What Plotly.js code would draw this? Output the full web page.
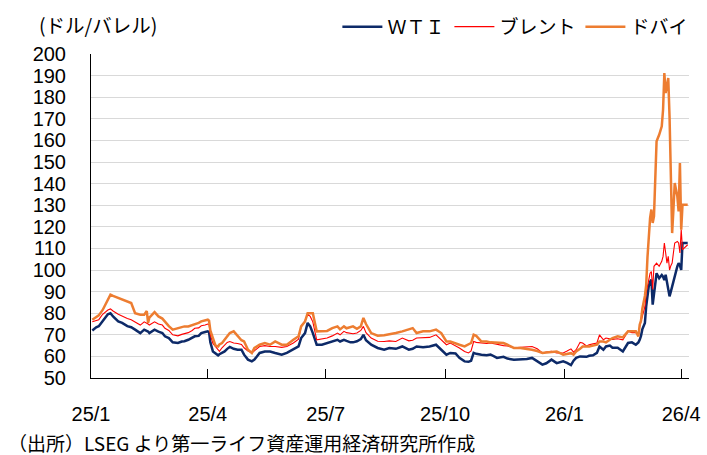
<!DOCTYPE html>
<html>
<head>
<meta charset="utf-8">
<script src="https://cdn.plot.ly/plotly-3.0.1.min.js"></script>
<style>
html,body{margin:0;padding:0;background:#fff;}
#chart{width:707px;height:455px;}
</style>
</head>
<body>
<div id="chart"></div>
<script>
const dates = [
'2025-01-02','2025-01-05','2025-01-07','2025-01-10','2025-01-14','2025-01-16','2025-01-18','2025-01-22','2025-01-25','2025-01-29',
'2025-02-01','2025-02-04','2025-02-08','2025-02-11','2025-02-13','2025-02-14','2025-02-15','2025-02-19','2025-02-22','2025-02-25','2025-02-27',
'2025-03-02','2025-03-05','2025-03-09','2025-03-12','2025-03-14','2025-03-17','2025-03-20','2025-03-22','2025-03-25','2025-03-27','2025-03-30',
'2025-04-01','2025-04-02','2025-04-03','2025-04-05','2025-04-07','2025-04-09','2025-04-10','2025-04-12','2025-04-14','2025-04-16','2025-04-18','2025-04-21','2025-04-24','2025-04-27','2025-04-29',
'2025-05-02','2025-05-05','2025-05-07','2025-05-11','2025-05-15','2025-05-19','2025-05-23','2025-05-28',
'2025-06-01','2025-06-06','2025-06-10','2025-06-12','2025-06-15','2025-06-17','2025-06-19','2025-06-21','2025-06-24','2025-06-28',
'2025-07-02','2025-07-06','2025-07-10','2025-07-12','2025-07-15','2025-07-17','2025-07-20','2025-07-22','2025-07-25','2025-07-28','2025-07-30',
'2025-08-01','2025-08-05','2025-08-10','2025-08-15','2025-08-19','2025-08-24','2025-08-29',
'2025-09-03','2025-09-06','2025-09-09','2025-09-14','2025-09-19','2025-09-24','2025-09-28',
'2025-10-02','2025-10-05','2025-10-09','2025-10-12','2025-10-16','2025-10-19','2025-10-21','2025-10-23','2025-10-25','2025-10-29',
'2025-11-02','2025-11-05','2025-11-10','2025-11-15','2025-11-18','2025-11-23','2025-11-28',
'2025-12-03','2025-12-07','2025-12-11','2025-12-15','2025-12-18','2025-12-22','2025-12-26','2025-12-31',
'2026-01-03','2026-01-06','2026-01-08','2026-01-10','2026-01-13','2026-01-15','2026-01-18','2026-01-20','2026-01-23','2026-01-26','2026-01-28','2026-01-31',
'2026-02-02','2026-02-05','2026-02-07','2026-02-11','2026-02-15','2026-02-19','2026-02-22','2026-02-25','2026-02-27','2026-02-28',
'2026-03-01','2026-03-02','2026-03-04','2026-03-05','2026-03-06','2026-03-07','2026-03-08','2026-03-09','2026-03-10','2026-03-11','2026-03-13','2026-03-15','2026-03-17','2026-03-18','2026-03-19','2026-03-20','2026-03-21','2026-03-22','2026-03-23','2026-03-24','2026-03-25','2026-03-26','2026-03-27','2026-03-29','2026-03-30','2026-03-31',
'2026-04-01','2026-04-02','2026-04-06'
];

const wti = [
72.0,73.5,74.0,76.5,79.5,80.0,78.5,76.2,75.5,74.0,
73.5,72.4,70.8,72.4,72.0,71.5,70.8,72.4,71.5,70.8,69.3,
68.5,66.5,66.2,66.9,67.0,67.7,68.5,69.3,69.5,70.8,71.3,
71.6,71.2,66.5,62.3,61.5,60.5,61.0,61.5,62.3,63.5,64.4,63.5,63.1,63.1,60.8,
58.5,57.7,58.5,61.6,62.3,62.3,61.6,60.8,
61.6,63.1,64.6,68.5,70.8,75.5,73.9,70.8,65.4,65.4,
66.2,66.9,67.7,66.9,67.7,67.2,66.5,66.5,67.0,68.0,70.0,
67.5,65.4,63.9,63.1,63.9,63.5,64.6,
63.1,63.5,64.6,64.2,64.6,65.4,63.1,
60.8,61.6,61.4,59.3,57.7,57.5,58.0,61.6,61.2,60.8,
60.5,60.9,59.3,59.8,59.0,58.5,58.5,
58.8,59.3,57.7,56.2,56.8,58.5,56.9,57.7,
57.0,56.0,58.0,59.3,60.0,60.0,59.8,60.3,60.5,61.6,64.6,63.1,
64.6,65.0,64.0,64.0,62.3,66.2,66.5,65.4,66.5,67.7,
69.5,72.5,75.5,83.2,88.0,92.5,94.5,95.5,84.0,89.6,98.5,96.2,97.7,96.9,95.4,97.8,94.0,91.0,87.8,90.0,92.5,94.5,96.9,101.7,103.2,102.0,
100.0,112.5,112.5
];

const brent = [
76.0,76.5,77.0,79.5,81.5,82.0,81.0,79.5,78.5,77.5,
77.0,76.0,74.5,76.0,75.5,75.0,74.5,76.0,75.0,74.5,73.0,
72.0,70.0,69.5,70.2,70.5,71.0,72.0,73.0,73.2,74.2,74.5,
75.0,74.8,70.0,66.0,64.5,63.0,62.3,64.0,65.5,66.5,66.9,66.2,66.0,65.5,64.0,
62.5,61.6,62.5,64.6,65.0,64.6,64.6,64.2,
64.6,66.2,68.0,73.9,76.5,79.5,78.5,76.0,67.7,68.0,
68.5,69.5,70.8,70.0,71.6,71.0,70.5,70.5,70.8,72.0,73.9,
71.0,68.5,67.0,66.9,67.2,66.9,68.5,
67.2,67.5,68.5,68.5,68.8,70.0,67.7,
65.4,66.2,65.0,63.9,62.3,61.6,62.5,66.9,66.5,66.2,
66.0,66.2,65.5,65.0,64.8,64.0,64.2,
64.4,64.6,63.5,61.6,62.0,62.3,61.6,61.6,
62.5,63.5,62.0,63.1,66.5,66.2,64.8,65.4,65.8,66.2,70.0,67.7,
68.5,68.2,67.9,68.2,67.7,71.6,71.0,71.0,71.2,73.9,
76.0,79.0,83.0,89.4,93.0,97.0,98.5,99.3,91.0,101.7,103.2,101.7,104.0,106.3,112.5,108.0,103.2,106.3,100.0,102.0,103.2,108.0,112.5,113.2,112.5,107.9,
118.7,109.4,111.7
];

const dubai = [
77.0,78.0,79.0,81.5,86.5,88.6,88.0,87.0,86.5,85.5,
84.7,80.0,79.3,79.3,81.0,75.5,78.0,80.5,78.5,77.5,76.0,
74.0,72.4,73.0,73.5,73.9,73.9,74.5,74.7,75.5,76.2,76.5,
77.0,76.5,72.0,68.5,65.0,64.6,65.5,66.2,67.7,69.0,70.8,71.6,69.5,67.5,66.9,
63.1,61.6,63.9,65.4,66.2,65.4,66.9,65.4,
65.4,67.7,69.3,73.9,76.2,80.0,80.0,80.0,71.6,71.6,
71.8,73.1,73.9,72.5,73.9,73.0,73.5,73.9,72.8,73.9,77.8,
75.0,70.8,69.6,69.8,70.2,70.8,71.6,
72.5,73.1,70.8,71.6,71.6,72.4,70.8,
66.9,66.9,66.2,65.4,64.6,65.5,66.2,70.0,69.5,66.9,
66.9,66.5,66.2,66.2,65.4,63.9,63.9,
63.5,63.1,62.5,61.6,61.8,62.0,62.3,60.8,
61.0,61.5,60.8,62.3,63.5,64.6,64.6,64.6,65.0,65.4,66.9,66.9,
66.5,67.7,68.5,69.3,68.8,71.6,71.6,71.6,69.3,74.7,
76.5,82.0,88.0,93.0,106.0,118.0,124.0,128.0,121.8,124.8,159.6,162.6,166.5,174.2,191.2,181.9,186.6,188.9,171.1,140.0,117.1,128.0,140.3,134.1,127.1,149.5,
118.7,130.2,130.2
];

const seriesNames = ['ＷＴＩ', 'ブレント', 'ドバイ'];
const tickDates = ['2025-01-01','2025-04-01','2025-07-01','2025-10-01','2026-01-01','2026-04-01'];
const tickLabels = ['25/1','25/4','25/7','25/10','26/1','26/4'];

const jp = '"Noto Sans CJK JP", sans-serif';
const num = '"Liberation Sans", Arial, sans-serif';

const traces = [
  {x: dates, y: wti, name: seriesNames[0], type: 'scatter', mode: 'lines', line: {color: '#0D2A68', width: 2.5}},
  {x: dates, y: brent, name: seriesNames[1], type: 'scatter', mode: 'lines', line: {color: '#FF0000', width: 1.1}},
  {x: dates, y: dubai, name: seriesNames[2], type: 'scatter', mode: 'lines', line: {color: '#ED7D31', width: 2.5}}
];

const layout = {
  width: 707, height: 455,
  margin: {l: 91, r: 17.6, t: 54.3, b: 76.7, pad: 0, autoexpand: false},
  paper_bgcolor: '#fff', plot_bgcolor: '#fff',
  showlegend: true,
  legend: {
    orientation: 'h', x: 0.412, y: 1.084, xanchor: 'left', yanchor: 'middle',
    font: {family: jp, size: 19, color: '#000'}, bgcolor: 'rgba(0,0,0,0)', itemwidth: 40
  },
  xaxis: {
    type: 'date', range: ['2025-01-01', '2026-04-07'],
    tickmode: 'array', tickvals: tickDates, ticktext: tickLabels,
    ticks: 'inside', ticklen: 9, tickwidth: 1, tickcolor: '#000',
    showline: true, linecolor: '#000', linewidth: 1,
    showgrid: false, zeroline: false,
    tickfont: {family: num, size: 20, color: '#000'},
    ticklabelstandoff: 18
  },
  yaxis: {
    range: [50, 200], tickmode: 'linear', tick0: 50, dtick: 10,
    showline: true, linecolor: '#000', linewidth: 1,
    showgrid: true, gridcolor: '#D9D9D9', gridwidth: 1,
    zeroline: false, ticks: '',
    tickfont: {family: num, size: 20, color: '#000'},
    ticklabelstandoff: 20
  },
  annotations: [
    {xref: 'paper', yref: 'paper', x: -0.0907, y: 1.090, xanchor: 'left', yanchor: 'middle',
     text: '(ドル/バレル)', showarrow: false, font: {family: jp, size: 19.5, color: '#000'}},
    {xref: 'paper', yref: 'paper', x: -0.140, y: -0.2, xanchor: 'left', yanchor: 'middle', borderpad: 0,
     text: '（出所）LSEG より第一ライフ資産運用経済研究所作成', showarrow: false, font: {family: jp, size: 19, color: '#000'}}
  ]
};

Plotly.newPlot('chart', traces, layout, {displayModeBar: false, staticPlot: true});
</script>
</body>
</html>
